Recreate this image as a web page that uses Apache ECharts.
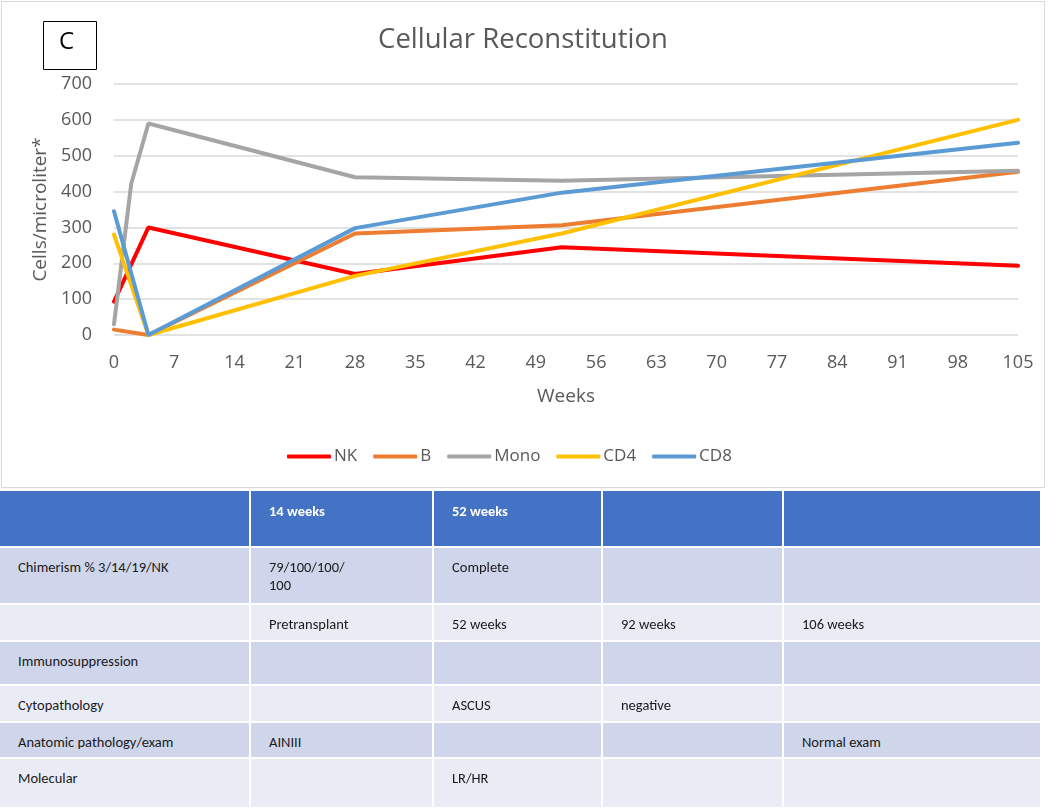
<!DOCTYPE html>
<html>
<head>
<meta charset="utf-8">
<script src="https://cdn.jsdelivr.net/npm/echarts@6/dist/echarts.min.js"></script>
<style>
  html, body { margin: 0; padding: 0; background: #fff; width: 1050px; height: 809px; overflow: hidden; }
  #chart { position: absolute; left: 1px; top: 1px; width: 1044px; height: 487px; border: 1px solid #d9d9d9; box-sizing: border-box; }
  #table { position: absolute; left: 0; top: 0; width: 1050px; height: 809px; }
  .cell { position: absolute; box-sizing: border-box; padding: 10px 0 0 18px; font-family: Calibri, Carlito, "Open Sans", sans-serif; font-size: 14.5px; line-height: 18px; color: #1a1a1a; }
  .hdr { background: #4472C4; color: #fff; font-weight: bold; }
  .odd { background: #CFD5EA; }
  .even { background: #E9EBF5; }
</style>
</head>
<body>
<div id="chart"></div>
<div id="table"></div>
<script>
// ---- chart data ----
const seriesNames = ['NK', 'B', 'Mono', 'CD4', 'CD8'];
const seriesColors = ['#FF0000', '#ED7D31', '#A5A5A5', '#FFC000', '#5B9BD5'];
const nkWeeks   = [0, 4, 28, 52, 105];
const nkValues  = [93, 300, 170, 245, 193];
const bWeeks    = [0, 4, 28, 52, 105];
const bValues   = [15, 0, 283, 306, 455];
const monoWeeks = [0, 2, 4, 28, 52, 105];
const monoValues= [30, 422, 590, 440, 430, 458];
const cd4Weeks  = [0, 4, 28, 52, 105];
const cd4Values = [280, 0, 165, 283, 600];
const cd8Weeks  = [0, 4, 28, 52, 105];
const cd8Values = [345, 0, 298, 397, 536];
const xTicks = [0, 7, 14, 21, 28, 35, 42, 49, 56, 63, 70, 77, 84, 91, 98, 105];
const yTicks = [0, 100, 200, 300, 400, 500, 600, 700];

// ---- table data ----
const tableHeader = ['', '14 weeks', '52 weeks', '', ''];
const tableRows = [
  ['Chimerism % 3/14/19/NK', '79/100/100/<br>100', 'Complete', '', ''],
  ['', 'Pretransplant', '52 weeks', '92 weeks', '106 weeks'],
  ['Immunosuppression', '', '', '', ''],
  ['Cytopathology', '', 'ASCUS', 'negative', ''],
  ['Anatomic pathology/exam', 'AINIII', '', '', 'Normal exam'],
  ['Molecular', '', 'LR/HR', '', '']
];

function pairs(xs, ys) { return xs.map((x, i) => [x, ys[i]]); }
const allData = [
  pairs(nkWeeks, nkValues), pairs(bWeeks, bValues), pairs(monoWeeks, monoValues),
  pairs(cd4Weeks, cd4Values), pairs(cd8Weeks, cd8Values)
];

const font = '"Open Sans", "Segoe UI", sans-serif';
const chart = echarts.init(document.getElementById('chart'));
chart.setOption({
  animation: false,
  textStyle: { fontFamily: font },
  title: {
    text: 'Cellular Reconstitution', left: 'center', top: 19,
    textStyle: { fontSize: 27.5, fontWeight: 'normal', color: '#595959', fontFamily: font }
  },
  graphic: [
    { type: 'rect', left: 41, top: 19, shape: { width: 53, height: 48 },
      style: { fill: '#fff', stroke: '#000', lineWidth: 1 } },
    { type: 'text', left: 57, top: 28, style: { text: 'C', fontSize: 24, fill: '#000', fontFamily: font } }
  ],
  legend: {
    data: seriesNames, bottom: 17, left: 280, itemWidth: 44, itemHeight: 4, itemGap: 16,
    icon: 'roundRect',
    textStyle: { fontSize: 17, color: '#595959', padding: [0, 0, 0, -2] }
  },
  grid: { left: 112, right: 26, top: 82, bottom: 152 },
  xAxis: {
    type: 'value', min: 0, max: 105, interval: 7,
    name: 'Weeks', nameLocation: 'middle', nameGap: 52,
    nameTextStyle: { fontSize: 19, color: '#595959' },
    axisLine: { show: false }, axisTick: { show: false },
    splitLine: { show: false },
    axisLabel: { fontSize: 18, color: '#595959', margin: 19 }
  },
  yAxis: {
    type: 'value', min: 0, max: 700, interval: 100,
    name: 'Cells/microliter*', nameLocation: 'middle', nameGap: 50,
    nameTextStyle: { fontSize: 19, color: '#595959' },
    axisLine: { show: false }, axisTick: { show: false },
    splitLine: { lineStyle: { color: '#d9d9d9', width: 1.5 } },
    axisLabel: { fontSize: 18, color: '#595959', margin: 22 }
  },
  series: seriesNames.map((n, i) => ({
    name: n, type: 'line', data: allData[i], symbol: 'none', showSymbol: false,
    lineStyle: { width: 4, color: seriesColors[i], cap: 'round' },
    itemStyle: { color: seriesColors[i] }
  }))
});

// ---- table layout ----
const colX = [0, 251, 434, 603, 784, 1042];
const rowY = [491, 548, 605, 642, 686, 723, 759, 809];
const tbl = document.getElementById('table');
function addCell(r, c, html, cls) {
  const d = document.createElement('div');
  d.className = 'cell ' + cls;
  d.style.left = colX[c] + 'px';
  d.style.top = rowY[r] + 'px';
  d.style.width = (colX[c + 1] - colX[c] - 2) + 'px';
  d.style.height = (rowY[r + 1] - rowY[r] - 2) + 'px';
  if (r === 0) d.style.paddingTop = '11px';
  d.innerHTML = html;
  tbl.appendChild(d);
}
tableHeader.forEach((t, c) => addCell(0, c, t, 'hdr'));
tableRows.forEach((row, r) => row.forEach((t, c) => addCell(r + 1, c, t, r % 2 === 0 ? 'odd' : 'even')));
</script>
</body>
</html>
